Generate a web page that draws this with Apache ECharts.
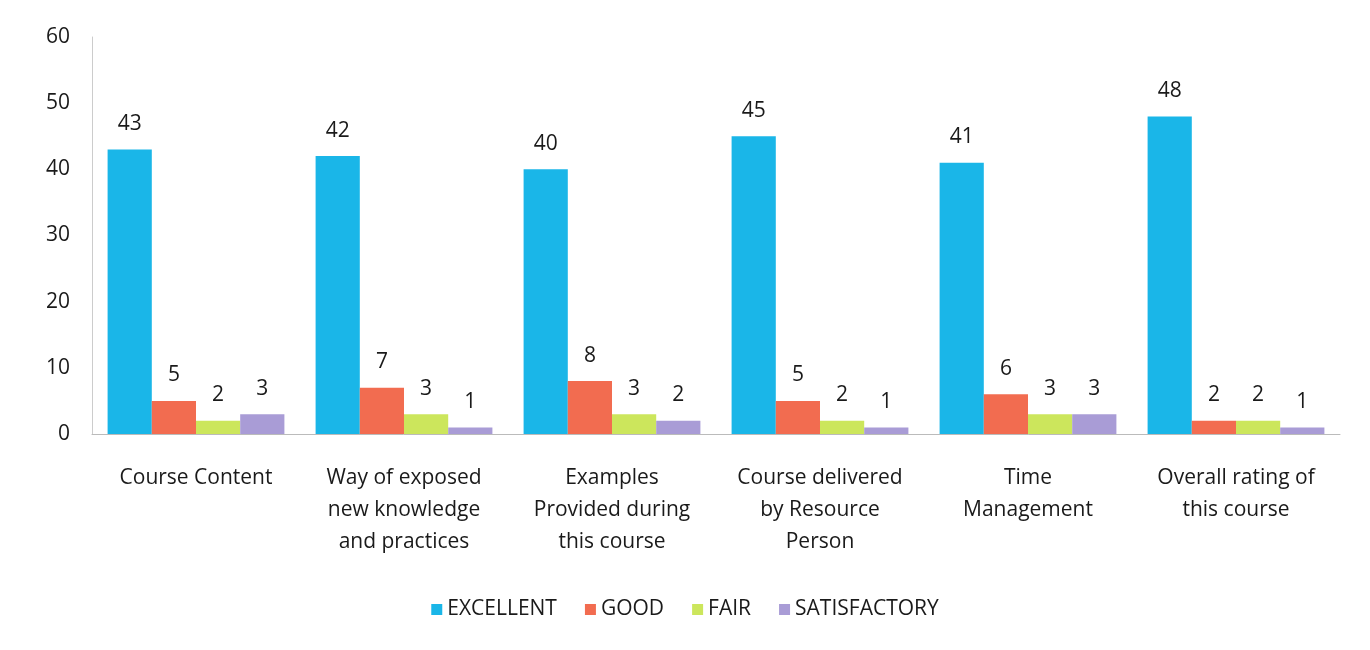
<!DOCTYPE html>
<html>
<head>
<meta charset="utf-8">
<script src="https://cdn.jsdelivr.net/npm/echarts@6/dist/echarts.min.js"></script>
<style>
  html, body { margin: 0; padding: 0; background: #fff; }
  #chart { width: 1370px; height: 650px; }
</style>
</head>
<body>
<div id="chart"></div>
<script>
const categories = [
  'Course Content',
  'Way of exposed\nnew knowledge\nand practices',
  'Examples\nProvided during\nthis course',
  'Course delivered\nby Resource\nPerson',
  'Time\nManagement',
  'Overall rating of\nthis course'
];
const excellent = [43, 42, 40, 45, 41, 48];
const good = [5, 7, 8, 5, 6, 2];
const fair = [2, 3, 3, 2, 3, 2];
const satisfactory = [3, 1, 2, 1, 3, 1];

const font = '"Open Sans", "Noto Sans", sans-serif';
const myChart = echarts.init(document.getElementById('chart'));

const mkSeries = (name, data) => ({
  name: name,
  type: 'bar',
  data: data,
  barGap: 0,
  barCategoryGap: '15%',
  label: {
    show: true,
    position: 'top',
    distance: 15,
    color: '#1a1a1a',
    fontSize: 21,
    fontFamily: font
  }
});

const option = {
  color: ['#1ab6e8', '#f26c50', '#cce65c', '#a99cd6'],
  textStyle: { fontFamily: font },
  grid: { left: 92, right: 30, top: 37, bottom: 216 },
  legend: {
    bottom: 25,
    left: 'center',
    itemWidth: 11,
    itemHeight: 11,
    itemGap: 28,
    icon: 'rect',
    textStyle: { fontSize: 21, color: '#1a1a1a', fontFamily: font },
    data: ['EXCELLENT', 'GOOD', 'FAIR', 'SATISFACTORY']
  },
  xAxis: {
    type: 'category',
    data: categories,
    axisLine: { lineStyle: { color: '#bbb' } },
    axisTick: { show: false },
    axisLabel: {
      interval: 0,
      margin: 28,
      fontSize: 21,
      lineHeight: 32,
      color: '#1a1a1a',
      fontFamily: font
    }
  },
  yAxis: {
    type: 'value',
    min: 0,
    max: 60,
    interval: 10,
    axisLine: { show: true, lineStyle: { color: '#ccc' } },
    axisTick: { show: false },
    splitLine: { show: false },
    axisLabel: { fontSize: 21, color: '#1a1a1a', margin: 22, fontFamily: font }
  },
  series: [
    mkSeries('EXCELLENT', excellent),
    mkSeries('GOOD', good),
    mkSeries('FAIR', fair),
    mkSeries('SATISFACTORY', satisfactory)
  ]
};
option && myChart.setOption(option);
</script>
</body>
</html>
